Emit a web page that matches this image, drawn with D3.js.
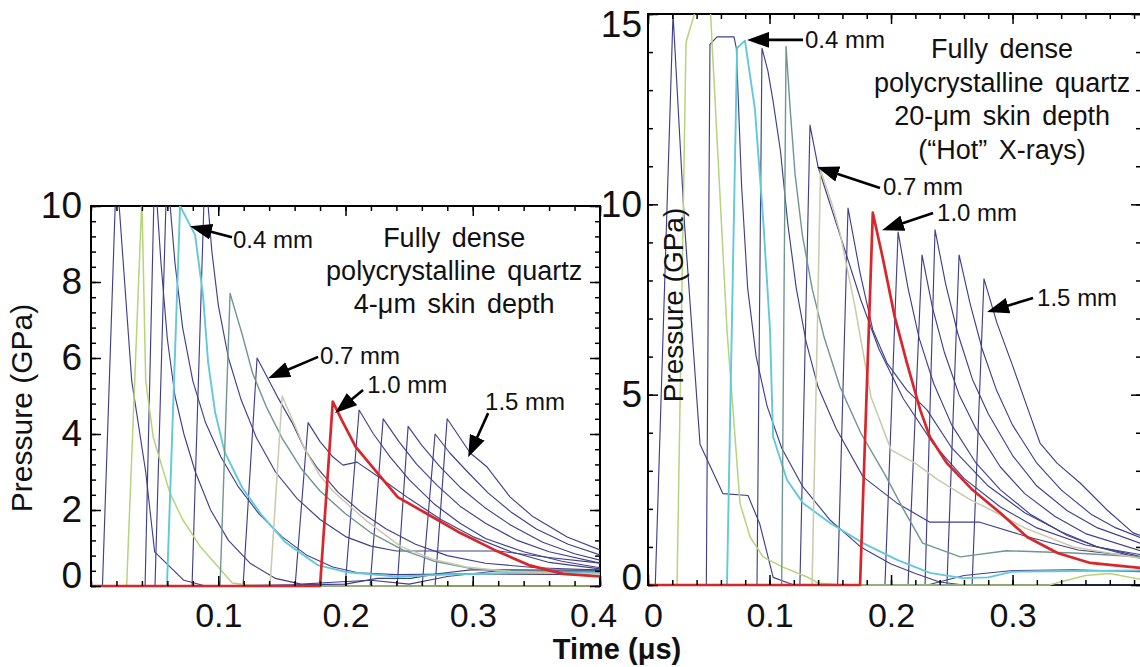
<!DOCTYPE html>
<html>
<head>
<meta charset="utf-8">
<script src="https://cdn.jsdelivr.net/npm/d3@7"></script>
<style>
  body { margin: 0; background: #fff; }
  svg { display: block; font-family: "Liberation Sans", Arial, sans-serif; }
</style>
</head>
<body>
<svg id="drawing_region"></svg>
<script>
// ---- data: [time (us), pressure (GPa)] ----

// left panel, 4-um skin depth
const leftA   = [[0,0],[0.009,0],[0.020,11],[0.032,5.4],[0.043,3.0],[0.050,0.9],[0.073,0.15],[0.09,0],[0.2,0.05],[0.225,0.2],[0.251,0.2],[0.274,0.33],[0.3,0.43],[0.4,0.41]];
const leftB   = [[0,0],[0.028,0],[0.040,10.2],[0.043,5.4],[0.049,3.9],[0.062,2.45],[0.072,1.75],[0.086,1.03],[0.100,0.5],[0.111,0.08],[0.13,0],[0.4,0]];
const leftC   = [[0,0],[0.0425,0],[0.050,11],[0.055,8.5],[0.060,6.5],[0.066,5.0],[0.073,4.0],[0.082,3.0],[0.094,2.0],[0.108,1.2],[0.125,0.6],[0.145,0.2],[0.165,0.05],[0.19,0.1],[0.22,0.15],[0.25,0.05],[0.28,0.25],[0.32,0.4],[0.4,0.42]];
const leftD   = [[0,0],[0.0503,0],[0.0597,11],[0.066,8.5],[0.072,6.8],[0.080,5.4],[0.090,4.3],[0.102,3.4],[0.116,2.6],[0.132,1.9],[0.150,1.3],[0.170,0.8],[0.19,0.5],[0.21,0.35],[0.24,0.3],[0.3,0.32],[0.4,0.3]];
const left04  = [[0,0],[0.0597,0],[0.070,10],[0.0818,9.24],[0.088,7.66],[0.092,5.9],[0.0975,4.58],[0.105,3.53],[0.119,2.58],[0.134,1.87],[0.1525,1.16],[0.178,0.55],[0.200,0.37],[0.24,0.25],[0.28,0.3],[0.34,0.35],[0.4,0.35]];
const leftF   = [[0,0],[0.0794,0],[0.0896,11],[0.095,8.8],[0.100,7.4],[0.108,6.0],[0.118,4.9],[0.130,3.9],[0.145,3.0],[0.162,2.3],[0.18,1.75],[0.20,1.3],[0.22,1.05],[0.24,0.92],[0.32,0.92],[0.36,0.75],[0.4,0.6]];
const leftG   = [[0,0],[0.1014,0],[0.1093,7.7],[0.119,6.6],[0.127,5.6],[0.138,4.7],[0.150,3.9],[0.165,3.1],[0.18,2.5],[0.20,1.9],[0.22,1.4],[0.245,0.95],[0.27,0.65],[0.30,0.45],[0.33,0.4],[0.4,0.38]];
const left07  = [[0,0],[0.1195,0],[0.1305,6.0],[0.1384,5.5],[0.147,4.95],[0.158,4.3],[0.168,3.6],[0.178,3.1],[0.194,2.47],[0.212,1.95],[0.232,1.5],[0.255,1.1],[0.28,0.8],[0.31,0.6],[0.35,0.48],[0.4,0.42]];
const leftI   = [[0,0],[0.1407,0],[0.1502,5.0],[0.158,4.4],[0.168,3.6],[0.18,2.9],[0.19,2.5],[0.217,1.7],[0.243,1.05],[0.269,0.7],[0.295,0.5],[0.33,0.38],[0.4,0.3]];
const leftJ   = [[0,0],[0.1604,0],[0.1706,4.3],[0.18,3.8],[0.19,3.4],[0.198,3.18],[0.209,3.26],[0.227,2.85],[0.25,2.3],[0.275,1.75],[0.30,1.3],[0.33,0.9],[0.36,0.62],[0.4,0.45]];
const left10  = [[0,0],[0.18,0],[0.19,4.85],[0.197,4.37],[0.208,3.66],[0.227,2.9],[0.241,2.34],[0.263,1.92],[0.29,1.4],[0.317,0.95],[0.344,0.55],[0.371,0.32],[0.4,0.25]];
const leftL   = [[0,0],[0.1997,0],[0.2107,4.63],[0.222,4.0],[0.235,3.4],[0.25,2.8],[0.27,2.15],[0.29,1.65],[0.31,1.25],[0.34,0.9],[0.37,0.65],[0.4,0.48]];
const leftM   = [[0,0],[0.2193,0],[0.2296,4.4],[0.242,3.8],[0.256,3.2],[0.272,2.65],[0.29,2.1],[0.31,1.65],[0.335,1.2],[0.36,0.9],[0.4,0.6]];
const leftN   = [[0,0],[0.2406,0],[0.2492,4.2],[0.26,3.7],[0.274,3.15],[0.29,2.6],[0.31,2.05],[0.33,1.6],[0.355,1.15],[0.38,0.85],[0.4,0.68]];
const leftO   = [[0,0],[0.2602,0],[0.2704,4.0],[0.282,3.5],[0.296,3.0],[0.312,2.45],[0.33,1.95],[0.35,1.5],[0.375,1.1],[0.4,0.82]];
const left15  = [[0,0],[0.2704,0],[0.2799,4.4],[0.298,3.5],[0.3113,3.13],[0.3294,2.34],[0.3475,1.82],[0.3742,1.29],[0.4,0.95]];

// right panel, 20-um skin depth
const rightA  = [[0,0],[0.006,0],[0.0206,15],[0.030,9.5],[0.0428,3.7],[0.0617,2.4],[0.0823,2.35],[0.092,1.6],[0.103,0.2],[0.12,0],[0.23,0],[0.26,0.25],[0.3,0.38],[0.35,0.4],[0.405,0.35]];
const rightB  = [[0,0],[0.0239,0],[0.0313,14.26],[0.041,15.3],[0.051,15.3],[0.065,6.7],[0.0757,2.15],[0.084,1.26],[0.0947,0.74],[0.111,0.47],[0.131,0.21],[0.14,0.05],[0.16,0],[0.33,0],[0.36,0.25],[0.38,0.3],[0.405,0.15]];
const rightC  = [[0,0],[0.048,0],[0.051,14.2],[0.0568,14.4],[0.0708,14.4],[0.0727,14.1],[0.077,10.5],[0.082,7.8],[0.089,6.0],[0.098,4.7],[0.11,3.6],[0.127,2.6],[0.15,1.7],[0.175,1.0],[0.2,0.55],[0.22,0.3],[0.24,0.08],[0.26,0],[0.405,0]];
const right04 = [[0,0],[0.065,0],[0.0733,14.1],[0.0798,14.3],[0.088,12.5],[0.095,9.5],[0.1004,6.7],[0.1029,3.9],[0.1144,2.76],[0.1276,2.15],[0.1498,1.63],[0.177,1.1],[0.205,0.66],[0.232,0.32],[0.259,0.18],[0.28,0.2],[0.30,0.35],[0.405,0.38]];
const rightE  = [[0,0],[0.0897,0],[0.0938,14.1],[0.0987,13.5],[0.103,12.7],[0.109,11.4],[0.115,9.5],[0.122,7.8],[0.13,6.4],[0.14,5.2],[0.155,4.1],[0.177,2.84],[0.205,2.15],[0.232,1.65],[0.273,1.65],[0.313,1.26],[0.354,0.92],[0.405,0.74]];
const rightF  = [[0,0],[0.110,0],[0.1136,14.15],[0.117,12.5],[0.121,10.8],[0.127,9.2],[0.135,7.8],[0.145,6.5],[0.158,5.2],[0.175,4.0],[0.195,2.9],[0.21,2.0],[0.226,1.1],[0.257,0.74],[0.295,0.9],[0.35,0.84],[0.405,0.74]];
const right07 = [[0,0],[0.125,0],[0.1333,12.08],[0.14,10.98],[0.1514,9.85],[0.162,8.8],[0.175,7.5],[0.19,6.2],[0.21,4.9],[0.235,3.7],[0.26,2.8],[0.29,2.05],[0.32,1.5],[0.36,1.05],[0.405,0.8]];
const rightH  = [[0,0],[0.135,0],[0.142,10.9],[0.1514,10.0],[0.158,9.25],[0.1704,7.3],[0.1835,4.94],[0.2,3.55],[0.2197,3.2],[0.2387,2.76],[0.2658,2.23],[0.2823,1.97],[0.31,1.5],[0.35,1.0],[0.405,0.7]];
const rightI  = [[0,0],[0.156,0],[0.1646,9.9],[0.1745,8.2],[0.185,6.7],[0.1967,5.83],[0.213,5.12],[0.2296,4.6],[0.25,3.6],[0.28,2.6],[0.31,1.9],[0.34,1.4],[0.37,1.0],[0.405,0.7]];
const right10 = [[0,0],[0.1745,0],[0.185,9.78],[0.193,8.62],[0.203,7.05],[0.213,5.84],[0.224,4.6],[0.232,3.89],[0.246,3.2],[0.267,2.5],[0.290,1.89],[0.312,1.26],[0.337,0.84],[0.364,0.58],[0.405,0.45]];
const rightK  = [[0,0],[0.195,0],[0.2058,9.27],[0.214,7.8],[0.223,6.5],[0.235,5.3],[0.25,4.2],[0.27,3.2],[0.29,2.5],[0.315,1.85],[0.345,1.3],[0.37,1.0],[0.405,0.75]];
const rightL  = [[0,0],[0.214,0],[0.2255,8.67],[0.234,7.3],[0.244,6.1],[0.256,5.0],[0.27,4.1],[0.29,3.1],[0.31,2.4],[0.335,1.8],[0.36,1.35],[0.405,0.9]];
const rightM  = [[0,0],[0.228,0],[0.2362,9.33],[0.245,7.9],[0.255,6.6],[0.267,5.4],[0.28,4.5],[0.30,3.4],[0.32,2.6],[0.345,1.95],[0.37,1.5],[0.405,1.1]];
const rightN  = [[0,0],[0.246,0],[0.256,8.67],[0.265,7.4],[0.275,6.2],[0.287,5.1],[0.30,4.2],[0.32,3.2],[0.34,2.5],[0.365,1.85],[0.385,1.5],[0.405,1.25]];
const right15 = [[0,0],[0.2667,0],[0.2765,8.04],[0.2872,6.88],[0.3004,5.73],[0.312,4.68],[0.3226,3.73],[0.3366,3.2],[0.3556,2.68],[0.3778,1.97],[0.3992,1.37],[0.405,1.3]];

const leftCurves  = [leftA, leftB, leftC, leftD, left04, leftF, leftG, left07, leftI, leftJ, left10, leftL, leftM, leftN, leftO, left15];
const leftKinds   = ["navy","green","navy","navy","cyan","navy","teal","navy","beige","navy","red","navy","navy","navy","navy","navy"];
const rightCurves = [rightA, rightB, rightC, right04, rightE, rightF, right07, rightH, rightI, right10, rightK, rightL, rightM, rightN, right15];
const rightKinds  = ["navy","green","navy","cyan","navy","teal","navy","beige","navy","red","navy","navy","navy","navy","navy"];

// tick values
const leftYTicks  = [0, 2, 4, 6, 8, 10];
const leftXTicks  = [0.1, 0.2, 0.3, 0.4];
const rightYTicks = [0, 5, 10, 15];
const rightXTicks = [0, 0.1, 0.2, 0.3];

// thickness callouts: [text, arrow tip, arrow tail, text anchor] in data units
const leftCallouts = [
  ["0.4 mm", [0.0778, 9.47], [0.1108, 9.18], [0.1116, 8.89]],
  ["0.7 mm", [0.1392, 5.47], [0.1785, 6.03], [0.180, 5.84]],
  ["1.0 mm", [0.1918, 4.55], [0.2138, 5.16], [0.217, 5.08]],
  ["1.5 mm", [0.2964, 3.39], [0.3121, 4.55], [0.3097, 4.63]]
];
const rightCallouts = [
  ["0.4 mm", [0.0815, 14.32], [0.1276, 14.32], [0.1292, 14.11]],
  ["0.7 mm", [0.1391, 10.98], [0.1909, 10.43], [0.1934, 10.24]],
  ["1.0 mm", [0.1926, 9.32], [0.2346, 9.77], [0.2379, 9.56]],
  ["1.5 mm", [0.279, 7.17], [0.3169, 7.54], [0.3202, 7.33]]
];
const leftNote  = ["Fully dense", "polycrystalline quartz", "4-\u03bcm skin depth"];
const rightNote = ["Fully dense", "polycrystalline quartz", "20-\u03bcm skin depth", "(\u201cHot\u201d X-rays)"];

// ---- styles ----
const lineStyle = {
  navy:  { color: "#40408a", width: 1.15, order: 0 },
  green: { color: "#b6d47c", width: 1.5, order: 1 },
  teal:  { color: "#6f9690", width: 1.4, order: 1 },
  beige: { color: "#cdc8aa", width: 1.5, order: 1 },
  cyan:  { color: "#62c8da", width: 1.9, order: 1 },
  red:   { color: "#d9262b", width: 2.7, order: 2 }
};

const svg = d3.select("#drawing_region")
  .attr("width", 1140)
  .attr("height", 667);

const defs = svg.append("defs");
defs.append("marker")
  .attr("id", "head")
  .attr("viewBox", "0 0 22 16")
  .attr("refX", 16).attr("refY", 8)
  .attr("markerWidth", 22).attr("markerHeight", 16)
  .attr("markerUnits", "userSpaceOnUse")
  .attr("orient", "auto")
  .append("path")
  .attr("d", "M0,0L22,8L0,16Z")
  .attr("fill", "#000");

const panels = [
  {
    id: "left", curves: leftCurves, kinds: leftKinds,
    xDomain: [0, 0.4], xRange: [91, 600], yDomain: [0, 10], yRange: [586, 206],
    xTicks: leftXTicks, yTicks: leftYTicks, xMinor: 0.02, yMinor: 0.4,
    xFmt: d3.format(".1f"), yPad: 9, xPad: 17,
    yNudge: { 0: -10 }, xNudge: { 0.4: -7 },
    callouts: leftCallouts, note: leftNote, noteAt: [0.2854, 8.92], noteStep: 33
  },
  {
    id: "right", curves: rightCurves, kinds: rightKinds,
    xDomain: [0, 0.4057], xRange: [648, 1141], yDomain: [0, 15], yRange: [585, 14],
    xTicks: rightXTicks, yTicks: rightYTicks, xMinor: 0.02, yMinor: 1,
    xFmt: d => d === 0 ? "0" : d3.format(".1f")(d), yPad: 6, xPad: 18,
    yNudge: { 0: -7, 15: 11 }, xNudge: { 0: 5 },
    callouts: rightCallouts, note: rightNote, noteAt: [0.2914, 13.84], noteStep: 33.5
  }
];

panels.forEach(p => drawPanel(p));

function drawPanel(p) {
  const x = d3.scaleLinear().domain(p.xDomain).range(p.xRange);
  const y = d3.scaleLinear().domain(p.yDomain).range(p.yRange);
  const left = p.xRange[0], right = p.xRange[1];
  const top = p.yRange[1], bottom = p.yRange[0];

  // frame first, so the curves lying on zero show over it
  svg.append("rect")
    .attr("x", left).attr("y", top)
    .attr("width", right - left).attr("height", bottom - top)
    .attr("fill", "none")
    .attr("stroke", "#000")
    .attr("stroke-width", 2);

  defs.append("clipPath").attr("id", "clip-" + p.id)
    .append("rect")
    .attr("x", left).attr("y", top)
    .attr("width", right - left).attr("height", bottom - top + 3);

  const line = d3.line().x(d => x(d[0])).y(d => y(d[1]));

  const series = p.curves.map((c, i) => ({ pts: c, kind: p.kinds[i] }))
    .sort((a, b) => lineStyle[a.kind].order - lineStyle[b.kind].order);

  svg.append("g")
    .attr("clip-path", `url(#clip-${p.id})`)
    .selectAll("path")
    .data(series)
    .join("path")
    .attr("d", d => line(d.pts))
    .attr("fill", "none")
    .attr("stroke", d => lineStyle[d.kind].color)
    .attr("stroke-width", d => lineStyle[d.kind].width)
    .attr("stroke-linejoin", "round");

  // minor ticks
  const xMinor = d3.range(p.xDomain[0], 0.4001, p.xMinor);
  const yMinor = d3.range(p.yDomain[0], p.yDomain[1] + 1e-6, p.yMinor);
  const minorAxes = [
    [d3.axisBottom(x).tickValues(xMinor), `translate(0,${bottom})`],
    [d3.axisTop(x).tickValues(xMinor), `translate(0,${top})`],
    [d3.axisLeft(y).tickValues(yMinor), `translate(${left},0)`],
    [d3.axisRight(y).tickValues(yMinor), `translate(${right},0)`]
  ];
  minorAxes.forEach(([ax, tr]) => {
    svg.append("g").attr("transform", tr)
      .call(ax.tickSize(-5).tickFormat(""))
      .call(g => g.select(".domain").remove())
      .selectAll("line").attr("stroke", "#000").attr("stroke-width", 1.3);
  });

  // major ticks + labels
  const xAxisG = svg.append("g").attr("transform", `translate(0,${bottom})`)
    .call(d3.axisBottom(x).tickValues(p.xTicks).tickSize(-10).tickPadding(p.xPad).tickFormat(p.xFmt))
    .attr("font-size", 34).attr("font-family", null);
  xAxisG.selectAll("text")
    .attr("fill", "#111")
    .attr("dx", d => p.xNudge[d] || 0);

  const yAxisG = svg.append("g").attr("transform", `translate(${left},0)`)
    .call(d3.axisLeft(y).tickValues(p.yTicks).tickSize(-10).tickPadding(p.yPad))
    .attr("font-size", 37).attr("font-family", null);
  yAxisG.selectAll("text")
    .attr("fill", "#111")
    .attr("y", d => p.yNudge[d] || 0);

  svg.append("g").attr("transform", `translate(0,${top})`)
    .call(d3.axisTop(x).tickValues(p.xTicks).tickSize(-10).tickFormat(""));
  svg.append("g").attr("transform", `translate(${right},0)`)
    .call(d3.axisRight(y).tickValues(p.yTicks).tickSize(-10).tickFormat(""));

  svg.selectAll(".domain").remove();
  svg.selectAll(".tick line").attr("stroke", "#000").attr("stroke-width", 1.5);

  // thickness callouts
  p.callouts.forEach(([label, tip, tail, at]) => {
    const tx = x(tip[0]), ty = y(tip[1]);
    const sx = x(tail[0]), sy = y(tail[1]);
    const len = Math.hypot(sx - tx, sy - ty);
    svg.append("line")
      .attr("x1", sx).attr("y1", sy)
      .attr("x2", tx + (sx - tx) * 6 / len)
      .attr("y2", ty + (sy - ty) * 6 / len)
      .attr("stroke", "#000")
      .attr("stroke-width", 2.6)
      .attr("marker-end", "url(#head)");
    svg.append("text")
      .attr("x", x(at[0])).attr("y", y(at[1]))
      .attr("font-size", 24)
      .attr("fill", "#111")
      .text(label);
  });

  // description block
  svg.append("g")
    .selectAll("text")
    .data(p.note)
    .join("text")
    .attr("x", x(p.noteAt[0]))
    .attr("y", (d, i) => y(p.noteAt[1]) + i * p.noteStep)
    .attr("text-anchor", "middle")
    .attr("font-size", 27)
    .attr("word-spacing", 4)
    .attr("fill", "#111")
    .text(d => d);
}

// axis titles
svg.append("text")
  .attr("transform", "translate(32,408) rotate(-90)")
  .attr("text-anchor", "middle")
  .attr("font-size", 30)
  .attr("fill", "#111")
  .text("Pressure (GPa)");

svg.append("text")
  .attr("transform", "translate(683,305) rotate(-90)")
  .attr("text-anchor", "middle")
  .attr("font-size", 28)
  .attr("fill", "#111")
  .text("Pressure (GPa)");

svg.append("text")
  .attr("x", 617).attr("y", 659)
  .attr("text-anchor", "middle")
  .attr("font-size", 29)
  .attr("font-weight", "bold")
  .attr("fill", "#111")
  .text("Time (\u03bcs)");
</script>
</body>
</html>
